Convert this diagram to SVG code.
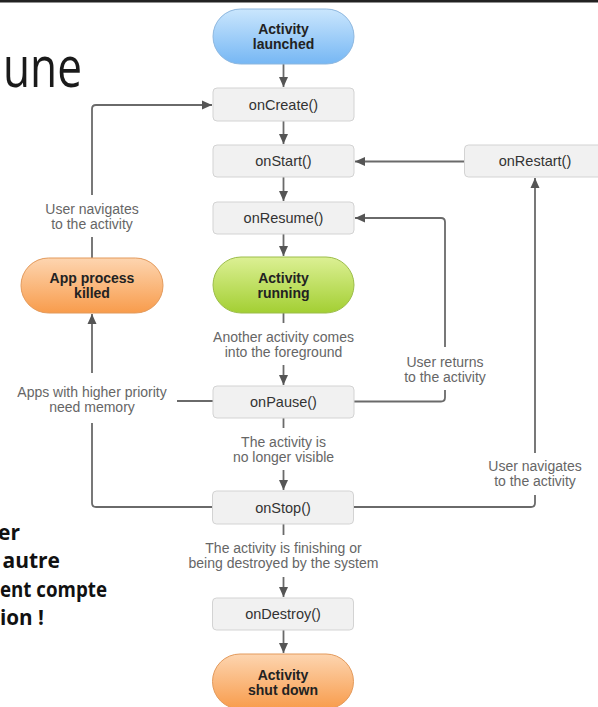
<svg xmlns="http://www.w3.org/2000/svg" width="598" height="707" viewBox="0 0 598 707">
<defs>
<linearGradient id="gBlue" x1="0" y1="0" x2="0" y2="1"><stop offset="0" stop-color="#cae6fd"/><stop offset="1" stop-color="#76b7f4"/></linearGradient>
<linearGradient id="gGreen" x1="0" y1="0" x2="0" y2="1"><stop offset="0" stop-color="#dcf094"/><stop offset="1" stop-color="#a3cf33"/></linearGradient>
<linearGradient id="gOrange" x1="0" y1="0" x2="0" y2="1"><stop offset="0" stop-color="#fdd5b0"/><stop offset="1" stop-color="#f89c4c"/></linearGradient>
<marker id="arr" viewBox="0 0 10 10" refX="10" refY="5" markerWidth="10" markerHeight="10" markerUnits="userSpaceOnUse" orient="auto"><path d="M0,0.5 L10,5 L0,9.5 z" fill="#555"/></marker>
</defs>
<style>
.box{fill:#f1f1f1;stroke:#d3d3d3;stroke-width:1}
.bl{font-family:"Liberation Sans",Arial,sans-serif;font-size:14.5px;fill:#333;text-anchor:middle}
.pl{font-family:"Liberation Sans",Arial,sans-serif;font-size:14px;font-weight:bold;fill:#222;text-anchor:middle}
.lab{font-family:"Liberation Sans",Arial,sans-serif;font-size:14px;fill:#666;text-anchor:middle}
.c{fill:none;stroke:#6a6a6a;stroke-width:1.8}
.a{marker-end:url(#arr)}
.fr{font-family:"Open Sans","Noto Sans",sans-serif;font-weight:bold;font-size:21px;fill:#111}
</style>
<rect x="0" y="0" width="598" height="2.5" fill="#222"/>
<text x="3" y="87" font-family="Open Sans, Noto Sans, sans-serif" font-size="56" fill="#1a1a1a" textLength="79" lengthAdjust="spacingAndGlyphs">une</text>
<g id="french-text">
<text class="fr" x="20" y="540" text-anchor="end">er</text>
<text class="fr" x="60" y="568" text-anchor="end">n autre</text>
<text class="fr" x="0" y="597" textLength="107" lengthAdjust="spacingAndGlyphs">ent compte</text>
<text class="fr" x="0" y="625" textLength="44" lengthAdjust="spacingAndGlyphs">ion !</text>
</g>
<g id="connectors">
<path class="c a" d="M283.5,64 V87"/>
<path class="c a" d="M283.5,121 V144"/>
<path class="c a" d="M283.5,177 V201"/>
<path class="c a" d="M283.5,234 V256"/>
<path class="c" d="M283.5,313 V323"/>
<path class="c a" d="M283.5,365 V385"/>
<path class="c" d="M283.5,418 V428"/>
<path class="c a" d="M283.5,470 V490"/>
<path class="c" d="M283.5,524 V535"/>
<path class="c a" d="M283.5,577 V597"/>
<path class="c a" d="M283.5,630 V653"/>
<path class="c a" d="M464,161.5 H355"/>
<path class="c" d="M354,401.5 H441 Q445,401.5 445,397.5 V390"/>
<path class="c a" d="M445,347 V222 Q445,218 441,218 H355"/>
<path class="c" d="M354,507 H531 Q535,507 535,503 V495"/>
<path class="c a" d="M535,453 V178"/>
<path class="c" d="M213,401 H177"/>
<path class="c a" d="M92,373 V314"/>
<path class="c" d="M92,423 V503 Q92,507 96,507 H212.5"/>
<path class="c" d="M92,258 V237"/>
<path class="c a" d="M92,195 V109 Q92,105 96,105 H212"/>
</g>
<g id="labels">
<text class="lab" x="92" y="214">User navigates</text>
<text class="lab" x="92" y="229">to the activity</text>
<text class="lab" x="92" y="397">Apps with higher priority</text>
<text class="lab" x="92" y="412">need memory</text>
<text class="lab" x="283.5" y="342">Another activity comes</text>
<text class="lab" x="283.5" y="357">into the foreground</text>
<text class="lab" x="283.5" y="447">The activity is</text>
<text class="lab" x="283.5" y="462">no longer visible</text>
<text class="lab" x="283.5" y="553">The activity is finishing or</text>
<text class="lab" x="283.5" y="568">being destroyed by the system</text>
<text class="lab" x="445" y="367">User returns</text>
<text class="lab" x="445" y="382">to the activity</text>
<text class="lab" x="535" y="471">User navigates</text>
<text class="lab" x="535" y="486">to the activity</text>
</g>
<g id="activity-launched">
<rect x="213" y="9" width="141" height="55" rx="27.5" fill="url(#gBlue)" stroke="#8db7df" stroke-width="1"/>
<text class="pl" x="283.5" y="34">Activity</text>
<text class="pl" x="283.5" y="49">launched</text>
</g>
<g id="onCreate"><rect class="box" x="213" y="88" width="141" height="33" rx="4"/><text class="bl" x="283.5" y="109.5">onCreate()</text></g>
<g id="onStart"><rect class="box" x="213" y="145" width="141" height="32" rx="4"/><text class="bl" x="283.5" y="166">onStart()</text></g>
<g id="onRestart"><rect class="box" x="464.5" y="145" width="141" height="32" rx="4"/><text class="bl" x="535" y="166">onRestart()</text></g>
<g id="onResume"><rect class="box" x="213" y="202" width="141" height="32" rx="4"/><text class="bl" x="283.5" y="223">onResume()</text></g>
<g id="app-process-killed">
<rect x="21" y="258" width="142" height="55" rx="27.5" fill="url(#gOrange)" stroke="#e39a5c" stroke-width="1"/>
<text class="pl" x="92" y="283">App process</text>
<text class="pl" x="92" y="298">killed</text>
</g>
<g id="activity-running">
<rect x="213" y="257" width="141" height="56" rx="28" fill="url(#gGreen)" stroke="#9cbd4a" stroke-width="1"/>
<text class="pl" x="283.5" y="282.5">Activity</text>
<text class="pl" x="283.5" y="297.5">running</text>
</g>
<g id="onPause"><rect class="box" x="213" y="386" width="141" height="32" rx="4"/><text class="bl" x="283.5" y="407">onPause()</text></g>
<g id="onStop"><rect class="box" x="212.5" y="491" width="141" height="33" rx="4"/><text class="bl" x="283" y="512.5">onStop()</text></g>
<g id="onDestroy"><rect class="box" x="212.5" y="598" width="141" height="32" rx="4"/><text class="bl" x="283" y="619">onDestroy()</text></g>
<g id="activity-shut-down">
<rect x="212.5" y="654" width="141" height="55" rx="27.5" fill="url(#gOrange)" stroke="#e39a5c" stroke-width="1"/>
<text class="pl" x="283" y="679.5">Activity</text>
<text class="pl" x="283" y="694.5">shut down</text>
</g>
</svg>
